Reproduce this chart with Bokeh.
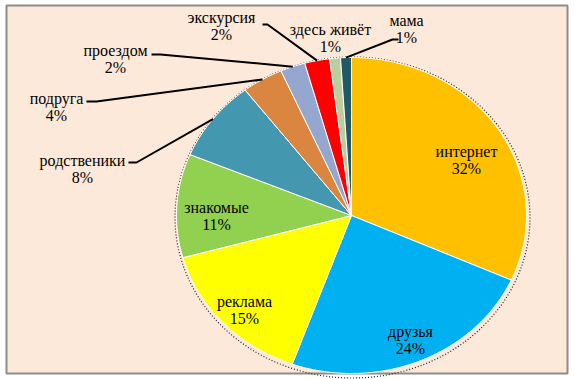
import numpy as np
from bokeh.plotting import figure
from bokeh.models import Range1d
from bokeh.core.properties import value
from bokeh.embed import file_html
from bokeh.resources import INLINE

# ---- data ----
categories = ["интернет", "друзья", "реклама", "знакомые", "родственики",
              "подруга", "проездом", "экскурсия", "здесь живёт", "мама"]
shares = [31.7, 23.8, 15.2, 10.6, 8.3, 3.8, 2.3, 2.3, 1.0, 1.0]
colors = ["#FFC000", "#00B0F0", "#FFFF00", "#92D050", "#4397AF",
          "#DA8640", "#95A7CE", "#FF0000", "#BBCE9E", "#215967"]

# ---- layout (page pixel coordinates) ----
CX, CY, RX, RY = 351.0, 215.0, 175.0, 158.0
label_pos = [(466, 151), (410, 331), (244, 301), (216, 207), (82, 160),
             (56, 98), (115, 50), (221, 17), (330, 29), (406, 20)]
# leader line start (near label) and stub end; None = no leader
leader = [None, None, None, None, ((128, 162), (136, 162)),
          ((86, 101), (96, 101)), ((151, 54), (160, 54)),
          ((262, 24), (267, 24)), None, ((398, 39), (392, 39))]

W, H = 574, 379
p = figure(width=W, height=H, output_backend="svg", toolbar_location=None,
           x_range=Range1d(0, W), y_range=Range1d(H, 0),
           min_border=0, min_border_left=0, min_border_right=0,
           min_border_top=0, min_border_bottom=0)
p.axis.visible = False
p.xgrid.visible = False
p.ygrid.visible = False
p.background_fill_color = "white"
p.border_fill_color = "white"
p.outline_line_color = None

# chart area frame
p.quad(left=[6], right=[567], top=[5], bottom=[373],
       fill_color="#FDE9D9", line_color="#8C8C8C", line_width=2)

# shadow (dotted)
p.ellipse(x=[CX + 1], y=[CY + 2], width=[2 * (RX + 2.5)], height=[2 * (RY + 2.5)],
          fill_color=None, line_color="#222222", line_dash="1 2", line_width=1.2)

vals = np.array(shares, dtype=float)
frac = vals / vals.sum()
ends = np.cumsum(frac)
starts = ends - frac
xs, ys = [], []
for s, e in zip(starts, ends):
    t = np.linspace(s, e, max(4, int((e - s) * 400))) * 2 * np.pi
    xs.append(np.concatenate([[CX], CX + RX * np.sin(t), [CX]]))
    ys.append(np.concatenate([[CY], CY - RY * np.cos(t), [CY]]))
p.patches(xs, ys, fill_color=colors, line_color="white", line_width=1)

# leader lines
for i, ld in enumerate(leader):
    if ld is None:
        continue
    mid = (starts[i] + ends[i]) / 2 * 2 * np.pi
    ex, ey = CX + RX * np.sin(mid), CY - RY * np.cos(mid)
    (ax, ay), (bx, by) = ld
    p.line([ax, bx, ex], [ay, by, ey], line_color="black", line_width=2)

FONT = value("'Liberation Serif', 'DejaVu Serif', serif")
names = categories
pcts = [f"{int(round(v))}%" for v in shares]
lx = [q[0] for q in label_pos]
ly = [q[1] for q in label_pos]
ly2 = [q[1] + 16.5 for q in label_pos]
p.text(x=lx, y=ly, text=names, text_align="center", text_baseline="middle",
       text_font=FONT, text_font_size="16px", text_color="black")
p.text(x=lx, y=ly2, text=pcts, text_align="center", text_baseline="middle",
       text_font=FONT, text_font_size="16px", text_color="black")

open("out.html", "w").write(file_html(p, INLINE))
